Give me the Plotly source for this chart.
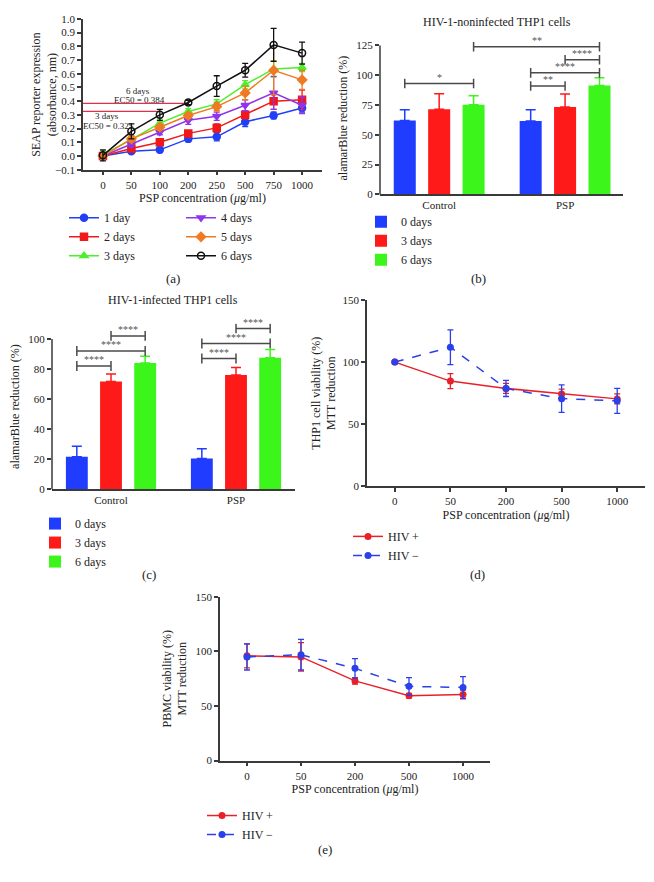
import plotly.graph_objects as go

W, H = 654, 882
FONT = "Liberation Serif"
INK = "#222222"
AXIS = "#3a3a3a"

# ---- (a) SEAP reporter expression ----
conc_a = ["0", "50", "100", "200", "250", "500", "750", "1000"]
day_names_a = ["1 day", "2 days", "3 days", "4 days", "5 days", "6 days"]
seap_1d = [0.00, 0.035, 0.045, 0.125, 0.14, 0.25, 0.295, 0.35]
seap_2d = [0.00, 0.055, 0.10, 0.165, 0.205, 0.30, 0.40, 0.41]
seap_3d = [0.01, 0.12, 0.24, 0.325, 0.38, 0.52, 0.635, 0.645]
seap_4d = [0.00, 0.085, 0.175, 0.26, 0.29, 0.37, 0.46, 0.37]
seap_5d = [0.00, 0.125, 0.21, 0.295, 0.36, 0.46, 0.625, 0.555]
seap_6d = [0.005, 0.18, 0.30, 0.39, 0.51, 0.625, 0.81, 0.75]
seap_1d_err = [0.02, 0.015, 0.02, 0.02, 0.03, 0.035, 0.025, 0.03]
seap_2d_err = [0.02, 0.02, 0.02, 0.02, 0.03, 0.03, 0.06, 0.07]
seap_3d_err = [0.03, 0.03, 0.03, 0.02, 0.03, 0.03, 0.06, 0.03]
seap_4d_err = [0.02, 0.02, 0.02, 0.03, 0.03, 0.04, 0.12, 0.06]
seap_5d_err = [0.02, 0.02, 0.02, 0.02, 0.03, 0.05, 0.18, 0.07]
seap_6d_err = [0.04, 0.055, 0.04, 0.015, 0.075, 0.05, 0.12, 0.08]
ec50_values = [0.384, 0.325]
ec50_days = ["6 days", "3 days"]
ec50_reach = ["200", "100"]  # concentration where the EC50 guide line stops

# ---- (b)/(c) alamarBlue reduction ----
groups = ["Control", "PSP"]
bar_days = ["0 days", "3 days", "6 days"]
noninf_0d = [62.0, 61.5]
noninf_3d = [71.5, 73.3]
noninf_6d = [75.2, 91.3]
noninf_0d_err = [9.0, 9.5]
noninf_3d_err = [13.0, 11.0]
noninf_6d_err = [7.5, 6.5]
inf_0d = [21.6, 20.5]
inf_3d = [71.7, 76.0]
inf_6d = [84.0, 87.4]
inf_0d_err = [7.0, 6.4]
inf_3d_err = [5.0, 5.0]
inf_6d_err = [4.5, 5.6]
# significance: (group, bar) -> (group, bar), height, label
sig_noninf = [((0, 0), (0, 2), 93, "*"), ((0, 2), (1, 2), 124, "**"),
              ((1, 1), (1, 2), 113, "****"), ((1, 0), (1, 2), 102, "****"),
              ((1, 0), (1, 1), 91, "**")]
sig_inf = [((0, 0), (0, 1), 82, "****"), ((0, 0), (0, 2), 92, "****"),
           ((0, 1), (0, 2), 102, "****"), ((1, 0), (1, 1), 87, "****"),
           ((1, 0), (1, 2), 97, "****"), ((1, 1), (1, 2), 107, "****")]

# ---- (d)/(e) MTT reduction ----
conc_de = ["0", "50", "200", "500", "1000"]
hiv_names = ["HIV +", "HIV \u2212"]
thp1_pos = [100, 84.7, 78.8, 74.3, 70.4]
thp1_pos_err = [0, 6, 4, 4, 4]
thp1_neg = [100, 112, 78.8, 70.6, 68.8]
thp1_neg_err = [0, 14, 6.5, 11, 10]
pbmc_pos = [96, 95, 73, 59.5, 60.5]
pbmc_pos_err = [11, 13, 3, 2, 4]
pbmc_neg = [95, 97, 84.5, 68, 67]
pbmc_neg_err = [12, 14, 9, 8, 10]


def px(x):
    return x / W


def py(y):
    return 1 - y / H


def axis(**kw):
    base = dict(showline=True, linecolor=AXIS, linewidth=1.5, ticks="outside",
                ticklen=4, tickwidth=1.5, tickcolor=AXIS, showgrid=False,
                zeroline=False, tickfont=dict(size=11, family=FONT, color=INK),
                title_font=dict(size=12, family=FONT, color=INK))
    base.update(kw)
    return base


fig = go.Figure()

# (a) lines
a_series = [seap_1d, seap_2d, seap_3d, seap_4d, seap_5d, seap_6d]
a_errs = [seap_1d_err, seap_2d_err, seap_3d_err, seap_4d_err, seap_5d_err, seap_6d_err]
a_colors = ["#2140f5", "#f01818", "#4cf02a", "#8f36e8", "#f07a22", "#111111"]
a_symbols = ["circle", "square", "triangle-up", "triangle-down", "diamond", "circle-open"]
for i, (name, ys, es) in enumerate(zip(day_names_a, a_series, a_errs)):
    fig.add_trace(go.Scatter(
        x=conc_a, y=ys, name=name, mode="lines+markers",
        line=dict(color=a_colors[i], width=1.5),
        marker=dict(symbol=a_symbols[i], size=7, color=a_colors[i],
                    line=dict(width=1.5, color=a_colors[i])),
        error_y=dict(type="data", array=es, color=a_colors[i], thickness=1.3, width=3),
        legend="legend" if i < 3 else "legend6",
        xaxis="x", yaxis="y",
    ))

# (b)/(c) bars
bar_colors = ["#1f3cff", "#ff1a1a", "#3cf51a"]
BARGAP = 0.18
SLOT = (1 - BARGAP) / 3
panels_bc = [
    ("x2", "y2", "legend2", [noninf_0d, noninf_3d, noninf_6d],
     [noninf_0d_err, noninf_3d_err, noninf_6d_err]),
    ("x3", "y3", "legend3", [inf_0d, inf_3d, inf_6d],
     [inf_0d_err, inf_3d_err, inf_6d_err]),
]
for xa, ya, lg, vals, errs in panels_bc:
    for j, name in enumerate(bar_days):
        fig.add_trace(go.Bar(
            x=[0, 1], y=vals[j], name=name, marker_color=bar_colors[j],
            marker_line_width=0,
            error_y=dict(type="data", symmetric=False, array=errs[j],
                         arrayminus=[0, 0], color=bar_colors[j], thickness=1.5, width=5),
            legend=lg, xaxis=xa, yaxis=ya,
        ))

# (d)/(e) lines
hiv_colors = ["#e8202a", "#2a40e8"]
hiv_dash = ["solid", "dash"]
panels_de = [("x4", "y4", "legend4", [thp1_pos, thp1_neg], [thp1_pos_err, thp1_neg_err]),
             ("x5", "y5", "legend5", [pbmc_pos, pbmc_neg], [pbmc_pos_err, pbmc_neg_err])]
for xa, ya, lg, vals, errs in panels_de:
    for k, name in enumerate(hiv_names):
        fig.add_trace(go.Scatter(
            x=conc_de, y=vals[k], name=name, mode="lines+markers",
            line=dict(color=hiv_colors[k], width=1.5, dash=hiv_dash[k]),
            marker=dict(symbol="circle", size=7, color=hiv_colors[k]),
            error_y=dict(type="data", array=errs[k], color=hiv_colors[k],
                         thickness=1.3, width=3),
            legend=lg, xaxis=xa, yaxis=ya,
        ))

shapes = []
annotations = []

# EC50 guide lines in (a)
for val, day, reach in zip(ec50_values, ec50_days, ec50_reach):
    shapes.append(dict(type="line", xref="x", yref="y", x0=-0.7,
                       x1=conc_a.index(reach), y0=val, y1=val,
                       line=dict(color="#e0304a", width=1.2), layer="below"))
annotations += [
    dict(x=1.25, y=0.475, xref="x", yref="y", text="6 days", showarrow=False,
         font=dict(size=9, family=FONT, color=INK)),
    dict(x=1.28, y=0.41, xref="x", yref="y", text="EC50 = 0.384", showarrow=False,
         font=dict(size=9, family=FONT, color=INK)),
    dict(x=0.14, y=0.29, xref="x", yref="y", text="3 days", showarrow=False,
         font=dict(size=9, family=FONT, color=INK)),
    dict(x=0.18, y=0.216, xref="x", yref="y", text="EC50 = 0.325", showarrow=False,
         font=dict(size=9, family=FONT, color=INK)),
]


def bar_x(g, b):
    return g + (b - 1) * SLOT


# significance brackets
for xa, ya, sigs, tick in [("x2", "y2", sig_noninf, 4.0), ("x3", "y3", sig_inf, 3.3)]:
    for (g0, b0), (g1, b1), yv, lab in sigs:
        x0, x1 = bar_x(g0, b0), bar_x(g1, b1)
        ln = dict(color="#4a4a4a", width=1.5)
        shapes.append(dict(type="line", xref=xa, yref=ya, x0=x0, x1=x1, y0=yv, y1=yv, line=ln))
        for xx in (x0, x1):
            shapes.append(dict(type="line", xref=xa, yref=ya, x0=xx, x1=xx,
                               y0=yv - tick, y1=yv + tick, line=ln))
        annotations.append(dict(x=(x0 + x1) / 2, y=yv, xref=xa, yref=ya, text=lab,
                                showarrow=False, yshift=6, yanchor="middle",
                                font=dict(size=10, family=FONT, color="#555555")))

# y axis lines of the bar panels end at the top tick
for xa, ya, top, rmax in [("x2", "y2", 125, 128), ("x3", "y3", 100, 110)]:
    shapes.append(dict(type="line", xref=xa + " domain", yref=ya + " domain",
                       x0=0, x1=0, y0=0, y1=top / rmax,
                       line=dict(color=AXIS, width=1.5)))

# titles and panel letters
for txt, x, y, size in [
    ("HIV-1-noninfected THP1 cells", 497, 16, 12),
    ("HIV-1-infected THP1 cells", 173, 298, 12),
    ("(a)", 173, 276, 13), ("(b)", 478, 276, 13), ("(c)", 149, 576, 13),
    ("(d)", 477, 576, 13), ("(e)", 325, 855, 13),
]:
    annotations.append(dict(x=px(x), y=py(y), xref="paper", yref="paper", text=txt,
                            showarrow=False, xanchor="center", yanchor="middle",
                            font=dict(size=size, family=FONT, color=INK)))

# (a) y title sits close to its tick labels
annotations.append(dict(x=px(44), y=py(90), xref="paper", yref="paper",
                        text="SEAP reporter expression<br>(absorbance, nm)",
                        textangle=-90, showarrow=False, xanchor="center", yanchor="middle",
                        font=dict(size=12, family=FONT, color=INK)))

xtitle = "PSP concentration (<i>\u03bc</i>g/ml)"


def legend_at(x, y):
    return dict(x=px(x), y=py(y), xanchor="left", yanchor="top",
                bgcolor="rgba(0,0,0,0)", font=dict(size=12, family=FONT, color=INK),
                itemwidth=30, tracegroupgap=0)


fig.update_layout(
    width=W, height=H, margin=dict(l=0, r=0, t=0, b=0),
    paper_bgcolor="white", plot_bgcolor="white",
    font=dict(family=FONT, color=INK),
    barmode="group", bargap=BARGAP, bargroupgap=0.36,
    showlegend=True,
    xaxis=axis(type="category", range=[-0.7, 7.7], domain=[px(83), px(322)],
               anchor="y", title=dict(text=xtitle, standoff=4)),
    yaxis=axis(range=[-0.1, 1.0], dtick=0.1, tickformat=".1f",
               domain=[py(166), py(13)], anchor="x"),
    xaxis2=axis(range=[-0.47, 1.46], domain=[px(380), px(623)], anchor="y2",
                tickvals=[0, 1], ticktext=groups, ticks="", ticklen=0),
    yaxis2=axis(range=[0, 128], tickvals=[0, 25, 50, 75, 100, 125], showline=False,
                domain=[py(191), py(191 - 128 * 1.208)], anchor="x2",
                title=dict(text="alamarBlue reduction (%)", standoff=6)),
    xaxis3=axis(range=[-0.472, 1.472], domain=[px(52), px(295)], anchor="y3",
                tickvals=[0, 1], ticktext=groups, ticks="", ticklen=0),
    yaxis3=axis(range=[0, 110], tickvals=[0, 20, 40, 60, 80, 100], showline=False,
                domain=[py(490), py(490 - 110 * 1.525)], anchor="x3",
                title=dict(text="alamarBlue reduction (%)", standoff=6)),
    xaxis4=axis(type="category", range=[-0.5, 4.5], domain=[px(367), px(645)],
                anchor="y4", title=dict(text=xtitle, standoff=4)),
    yaxis4=axis(range=[0, 150], tickvals=[0, 50, 100, 150],
                domain=[py(487), py(298)], anchor="x4",
                title=dict(text="THP1 cell viability (%)<br>MTT reduction", standoff=4)),
    xaxis5=axis(type="category", range=[-0.5, 4.5], domain=[px(220), px(490)],
                anchor="y5", title=dict(text=xtitle, standoff=4)),
    yaxis5=axis(range=[0, 150], tickvals=[0, 50, 100, 150],
                domain=[py(765), py(599)], anchor="x5",
                title=dict(text="PBMC viability (%)<br>MTT reduction", standoff=6)),
    legend=legend_at(64, 200),
    legend6=legend_at(181, 200),
    legend2=legend_at(361, 204),
    legend3=legend_at(35, 510),
    legend4=legend_at(348, 523),
    legend5=legend_at(202, 806),
    shapes=shapes,
    annotations=annotations,
)

# the page body has a default 8px margin; drop it so the figure sits at the corner
fig.write_html("out.html", config={"displayModeBar": False},
               post_script="document.body.style.margin = '0';")
